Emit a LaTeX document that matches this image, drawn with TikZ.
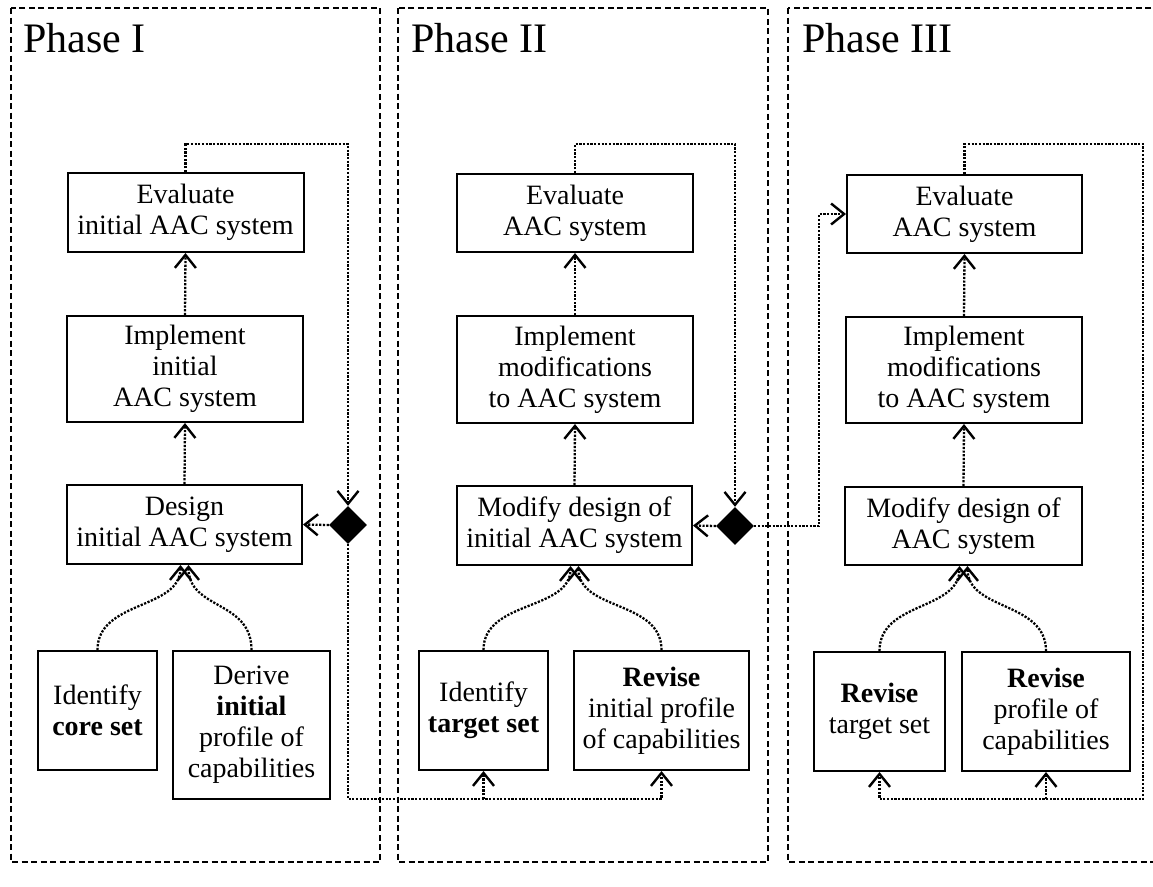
\documentclass[tikz,border=0pt]{standalone}
\usepackage{fontspec}
\setmainfont{Liberation Serif}
\usetikzlibrary{arrows.meta,shapes.geometric}
\newcommand\bxfont{\fontsize{28}{31}\selectfont}
\begin{document}
\begin{tikzpicture}[x=1pt,y=-1pt,
  box/.style={draw, line width=2pt, align=center, inner sep=2pt, font=\bxfont},
  wire/.style={line width=2.3pt, dash pattern=on 2.2pt off 1.5pt},
  conn/.style={wire, -{Straight Barb[length=13pt,width=21pt,line width=2.4pt]}},
  panel/.style={line width=1.4pt, dash pattern=on 6pt off 3.5pt},
  gate/.style={diamond, fill=black, inner sep=0pt, minimum width=38pt, minimum height=38pt},
  title/.style={font=\fontsize{42}{44}\selectfont, inner sep=0pt}]
\useasboundingbox (0,0) rectangle (1153,886);
\clip (0,0) rectangle (1153,886);

% phase panels
\draw[panel] (11,8) rectangle (380,862);
\draw[panel] (398,8) rectangle (768,862);
\draw[panel] (788,8) rectangle (1170,862);

\node[title, anchor=base west] (t1) at (23,52) {Phase I};
\node[title, anchor=base west] (t2) at (411,52) {Phase II};
\node[title, anchor=base west] (t3) at (802,52) {Phase III};

% Phase I
\node[box, minimum width=236pt, minimum height=79pt] (eva1) at (185.5,212.5) {Evaluate\\initial AAC system};
\node[box, minimum width=236pt, minimum height=106pt] (imp1) at (185,369) {Implement\\initial\\AAC system};
\node[box, minimum width=235pt, minimum height=79pt] (des1) at (184.5,524.5) {Design\\initial AAC system};
\node[box, minimum width=119pt, minimum height=119pt] (ids1) at (97.5,710.5) {Identify\\\textbf{core set}};
\node[box, minimum width=157pt, minimum height=148pt] (der1) at (251.5,725) {Derive\\\textbf{initial}\\profile of\\capabilities};
\node[gate] (dia1) at (348,525) {};

% Phase II
\node[box, minimum width=236pt, minimum height=78pt] (eva2) at (575,213) {Evaluate\\AAC system};
\node[box, minimum width=236pt, minimum height=107pt] (imp2) at (575,369.5) {Implement\\modifications\\to AAC system};
\node[box, minimum width=235pt, minimum height=79pt] (mod2) at (574.5,525.5) {Modify design of\\initial AAC system};
\node[box, minimum width=129pt, minimum height=119pt] (idt2) at (483.5,710.5) {Identify\\\textbf{target set}};
\node[box, minimum width=175pt, minimum height=119pt] (rev2) at (661.5,710.5) {\textbf{Revise}\\initial profile\\of capabilities};
\node[gate] (dia2) at (735,526) {};

% Phase III
\node[box, minimum width=235pt, minimum height=78pt] (eva3) at (964.5,214) {Evaluate\\AAC system};
\node[box, minimum width=236pt, minimum height=106pt] (imp3) at (964,370) {Implement\\modifications\\to AAC system};
\node[box, minimum width=237pt, minimum height=78pt] (mod3) at (963.5,526) {Modify design of\\AAC system};
\node[box, minimum width=131pt, minimum height=119pt] (rvt3) at (879.5,711.5) {\textbf{Revise}\\target set};
\node[box, minimum width=168pt, minimum height=119pt] (rvp3) at (1046,711.5) {\textbf{Revise}\\profile of\\capabilities};

% vertical flow
\draw[conn] (imp1.north) -- (eva1.south);
\draw[conn] (des1.north) -- (imp1.south);
\draw[conn] (imp2.north) -- (eva2.south);
\draw[conn] (mod2.north) -- (imp2.south);
\draw[conn] (imp3.north) -- (eva3.south);
\draw[conn] (mod3.north) -- (imp3.south);

% inputs merging into the design step
\draw[conn] (ids1.north) .. controls +(0,-50) and +(0,45) .. ([xshift=-4pt]des1.south);
\draw[conn] (der1.north) .. controls +(0,-50) and +(0,45) .. ([xshift=4pt]des1.south);
\draw[conn] (idt2.north) .. controls +(0,-50) and +(0,45) .. ([xshift=-4pt]mod2.south);
\draw[conn] (rev2.north) .. controls +(0,-50) and +(0,45) .. ([xshift=4pt]mod2.south);
\draw[conn] (rvt3.north) .. controls +(0,-50) and +(0,45) .. ([xshift=-4pt]mod3.south);
\draw[conn] (rvp3.north) .. controls +(0,-50) and +(0,45) .. ([xshift=4pt]mod3.south);

% feedback loops
\draw[conn] (eva1.north) -- ++(0,-28) -| (dia1.north);
\draw[conn] (dia1.west) -- (des1.east);
\coordinate (b1) at (348,799);
\draw[conn] (dia1.south) -- (b1) -| (rev2.south);
\draw[conn] (idt2.south |- b1) -- (idt2.south);

\draw[conn] (eva2.north) -- ++(0,-29) -| (dia2.north);
\draw[conn] (dia2.west) -- (mod2.east);
\draw[conn] (dia2.east) -- ++(65,0) |- (eva3.west);

\coordinate (b3) at (1143,799);
\draw[conn] (eva3.north) -- ++(0,-30) -| (b3) -| (rvt3.south);
\draw[conn] (rvp3.south |- b3) -- (rvp3.south);
\end{tikzpicture}
\end{document}
